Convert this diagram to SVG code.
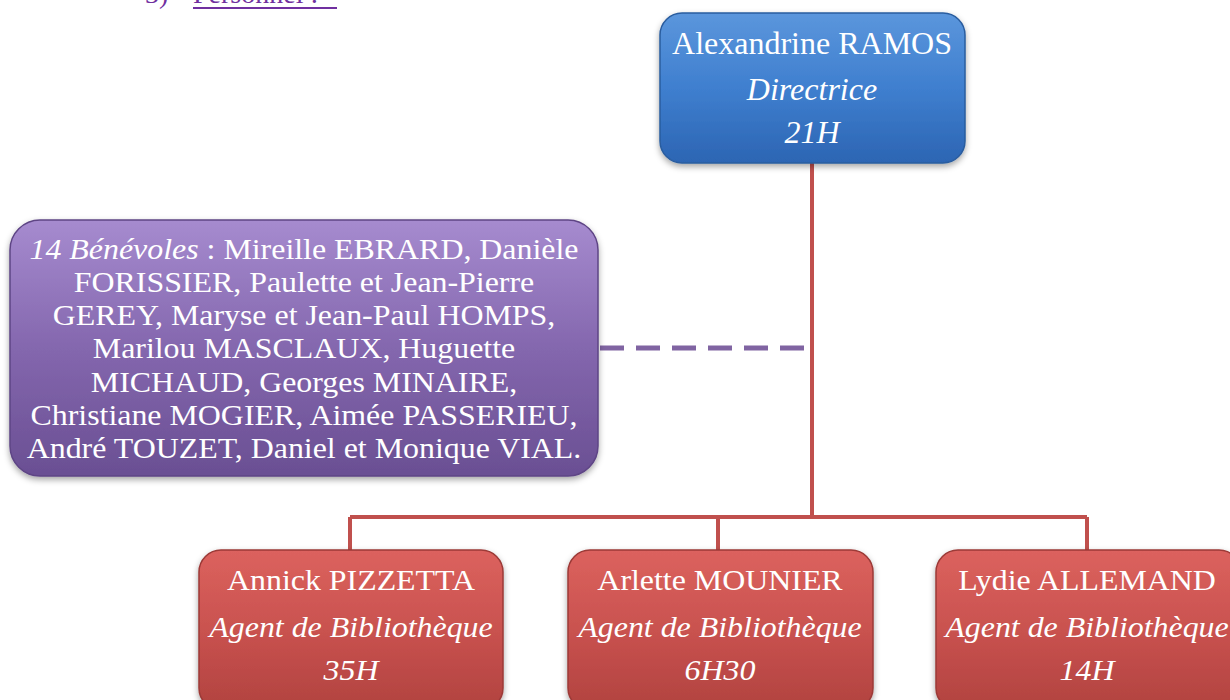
<svg xmlns="http://www.w3.org/2000/svg" width="1230" height="700" viewBox="0 0 1230 700">
<defs>
<linearGradient id="gBlue" x1="0" y1="0" x2="0" y2="1"><stop offset="0" stop-color="#5b96dc"/><stop offset="0.5" stop-color="#3f7fcf"/><stop offset="1" stop-color="#2c65b3"/></linearGradient>
<linearGradient id="gPurple" x1="0" y1="0" x2="0" y2="1"><stop offset="0" stop-color="#a68bcf"/><stop offset="0.5" stop-color="#8467ae"/><stop offset="1" stop-color="#6a4f93"/></linearGradient>
<linearGradient id="gRed" x1="0" y1="0" x2="0" y2="1"><stop offset="0" stop-color="#dc625e"/><stop offset="0.5" stop-color="#c9524f"/><stop offset="1" stop-color="#b1423f"/></linearGradient>
<filter id="sh" x="-10%" y="-10%" width="120%" height="130%"><feDropShadow dx="0" dy="3" stdDeviation="3" flood-color="#000" flood-opacity="0.35"/></filter>
<style>
.t{font-family:"Liberation Serif","Times New Roman",serif;fill:#fff;text-anchor:middle}
.i{font-style:italic}
.conn{stroke:#c0504d;stroke-width:4;fill:none}
.dash{stroke:#8064a2;stroke-width:5;fill:none;stroke-dasharray:24 12}
</style>
</defs>
<g id="title">
<text x="145" y="3" font-family="Liberation Serif, serif" font-size="28" fill="#7030a0">3)</text>
<text x="193" y="3" font-family="Liberation Serif, serif" font-size="28" fill="#7030a0">Personnel :</text>
<line x1="193" y1="8" x2="337" y2="8" stroke="#7030a0" stroke-width="2"/>
</g>
<g id="connectors">
<path class="conn" d="M812 163 V517 M350 517 H1087 M350 517 V552 M718 517 V552 M1087 517 V552"/>
<path class="dash" d="M600 348 H810"/>
</g>
<g id="n-ramos">
<rect x="660" y="13" width="305" height="150" rx="22" fill="url(#gBlue)" stroke="#2a5d9f" stroke-width="1.5" filter="url(#sh)"/>
<text class="t" x="812" y="54" font-size="32">Alexandrine RAMOS</text>
<text class="t i" x="812" y="100" font-size="32">Directrice</text>
<text class="t i" x="812" y="143" font-size="32">21H</text>
</g>
<g id="n-benevoles">
<rect x="10" y="220" width="588" height="256" rx="30" fill="url(#gPurple)" stroke="#5e4585" stroke-width="1.5" filter="url(#sh)"/>
<g transform="matrix(1.1 0 0 1 304 0)">
<text class="t" x="0" y="259" font-size="29"><tspan class="i">14 Bénévoles</tspan> : Mireille EBRARD, Danièle</text>
<text class="t" x="0" y="292" font-size="29">FORISSIER, Paulette et Jean-Pierre</text>
<text class="t" x="0" y="325" font-size="29">GEREY, Maryse et Jean-Paul HOMPS,</text>
<text class="t" x="0" y="358" font-size="29">Marilou MASCLAUX, Huguette</text>
<text class="t" x="0" y="392" font-size="29">MICHAUD, Georges MINAIRE,</text>
<text class="t" x="0" y="425" font-size="29">Christiane MOGIER, Aimée PASSERIEU,</text>
<text class="t" x="0" y="458" font-size="29">André TOUZET, Daniel et Monique VIAL.</text>
</g>
</g>
<g id="n-pizzetta">
<rect x="199" y="550" width="304" height="160" rx="22" fill="url(#gRed)" stroke="#9c3a37" stroke-width="1.5" filter="url(#sh)"/>
<g transform="matrix(1.1 0 0 1 351 0)">
<text class="t" x="0" y="590" font-size="29">Annick PIZZETTA</text>
<text class="t i" x="0" y="637" font-size="29">Agent de Bibliothèque</text>
<text class="t i" x="0" y="680" font-size="29">35H</text>
</g>
</g>
<g id="n-mounier">
<rect x="568" y="550" width="305" height="160" rx="22" fill="url(#gRed)" stroke="#9c3a37" stroke-width="1.5" filter="url(#sh)"/>
<g transform="matrix(1.1 0 0 1 720 0)">
<text class="t" x="0" y="590" font-size="29">Arlette MOUNIER</text>
<text class="t i" x="0" y="637" font-size="29">Agent de Bibliothèque</text>
<text class="t i" x="0" y="680" font-size="29">6H30</text>
</g>
</g>
<g id="n-allemand">
<rect x="936" y="550" width="305" height="160" rx="22" fill="url(#gRed)" stroke="#9c3a37" stroke-width="1.5" filter="url(#sh)"/>
<g transform="matrix(1.1 0 0 1 1087 0)">
<text class="t" x="0" y="590" font-size="29">Lydie ALLEMAND</text>
<text class="t i" x="0" y="637" font-size="29">Agent de Bibliothèque</text>
<text class="t i" x="0" y="680" font-size="29">14H</text>
</g>
</g>
</svg>
